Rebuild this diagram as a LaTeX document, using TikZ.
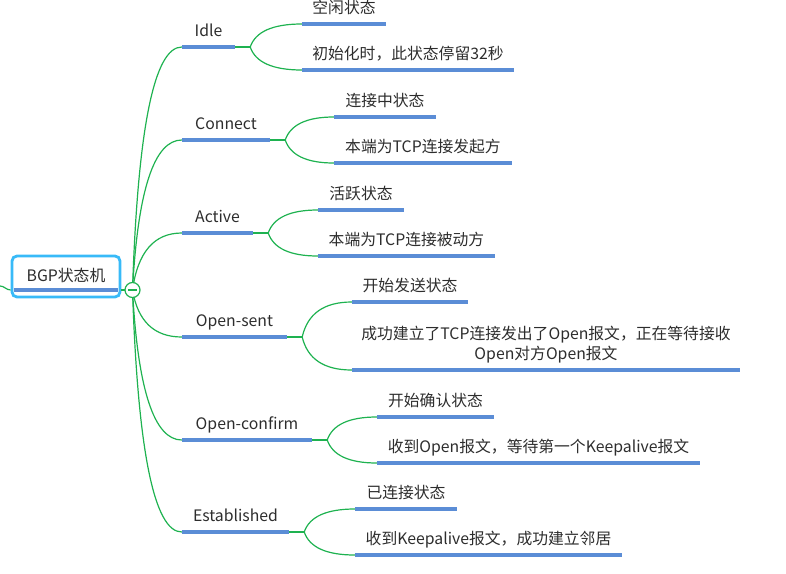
\documentclass[tikz,border=0pt]{standalone}
\usepackage{fontspec}
\setmainfont{Noto Sans CJK SC}
\usetikzlibrary{calc}
\definecolor{mmgreen}{RGB}{30,178,80}
\definecolor{mmblue}{RGB}{91,141,214}
\definecolor{mmcyan}{RGB}{56,186,248}
\definecolor{mmtext}{RGB}{45,45,45}
\tikzset
{
    rootnode/.style = {draw=mmcyan, line width=2.8pt, rounded corners=5pt, fill=white, minimum width=108pt, minimum height=41pt, inner sep=0pt},
    topicnode/.style = {anchor=base, inner xsep=0pt, minimum width=#1},
    leafnode/.style = {anchor=base, inner xsep=0pt, minimum width=#1},
    hubnode/.style = {circle, draw=mmgreen, fill=white, line width=1.2pt, minimum size=15pt, inner sep=0pt},
    uline/.style = {draw=mmblue, line width=3.5pt},
    branch/.style = {draw=mmgreen, line width=1.2pt}
}
% quadratic-looking branch: leaves steeply, arrives flat
\newcommand\mmlink[2]{\draw[branch] (#1) .. controls ($(#1)!0.667!(#1 |- #2)+(5.3,0)$) and ($(#2)!0.667!(#1 |- #2)+(5.3,0)$) .. (#2);}

\begin{document}
\begin{tikzpicture}[x=1pt, y=-1pt, text=mmtext, font=\fontsize{15.8}{20}\selectfont]
    \useasboundingbox (0,0) rectangle (786,573);
    % ------------------------------------------------ root
    \node [rootnode] (root) at (66,276.5) {\raisebox{3pt}{BGP状态机}};
    \coordinate (inlet) at (0,286);
    \coordinate (rootL) at ([yshift=-13.5pt]root.west);
    \coordinate (rootR) at ([yshift=-13.5pt]root.east);
    \coordinate (hubc) at (132.5,290);
    \draw [uline] ([xshift=3pt]rootL) -- ([xshift=-3pt]rootR);
    \draw [branch] (inlet) to[out=0, in=180] (rootL);
    \draw [branch] (rootR) -- (hubc);
    % ------------------------------------------------ topics
    \node [topicnode=53pt]  (idle)    at (208.5,36)  {Idle};
    \node [topicnode=88pt]  (connect) at (226,129)   {Connect};
    \node [topicnode=71pt]  (active)  at (217.5,222) {Active};
    \node [topicnode=105pt] (sent)    at (234.5,326) {Open-sent};
    \node [topicnode=130pt] (confirm) at (247,429)   {Open-confirm};
    \node [topicnode=107pt] (estab)   at (235.5,521) {Established};
    % ------------------------------------------------ leaves
    \node [leafnode=84pt]  (idleA)    at (344,13)    {空闲状态};
    \node [leafnode=212pt] (idleB)    at (408,59)    {初始化时，此状态停留32秒};
    \node [leafnode=102pt] (connectA) at (385,106)   {连接中状态};
    \node [leafnode=178pt] (connectB) at (423,152)   {本端为TCP连接发起方};
    \node [leafnode=86pt]  (activeA)  at (361,199)   {活跃状态};
    \node [leafnode=177pt] (activeB)  at (406.5,245) {本端为TCP连接被动方};
    \node [leafnode=116pt] (sentA)    at (410,291)   {开始发送状态};
    \node [leafnode=388pt, align=center] (sentB) at (546,359)
        {成功建立了TCP连接发出了Open报文，正在等待接收\\Open对方Open报文};
    \node [leafnode=117pt] (confirmA) at (435.5,406) {开始确认状态};
    \node [leafnode=323pt] (confirmB) at (538.5,452) {收到Open报文，等待第一个Keepalive报文};
    \node [leafnode=102pt] (estabA)   at (406,498)   {已连接状态};
    \node [leafnode=267pt] (estabB)   at (488.5,544) {收到Keepalive报文，成功建立邻居};
    % ------------------------------------------------ underlines
    \foreach \n in {idle,connect,active,sent,confirm,estab,idleA,idleB,connectA,connectB,activeA,activeB,sentA,sentB,confirmA,confirmB,estabA,estabB}
    {
        \coordinate (\n L) at ([yshift=-11pt]\n.base west);
        \coordinate (\n R) at ([yshift=-11pt]\n.base east);
        \draw [uline] (\n L) -- (\n R);
    }
    % ------------------------------------------------ branches
    \foreach \n in {idle,connect,active,sent,confirm,estab}
    {
        \mmlink{hubc}{\n L}
        \coordinate (\n J) at ([xshift=15pt]\n R);
        \draw [branch] (\n R) -- (\n J);
        \mmlink{\n J}{\n AL}
        \mmlink{\n J}{\n BL}
    }
    % ------------------------------------------------ collapse marker
    \node [hubnode] (hub) at (hubc) {};
    \draw [branch] ([xshift=-4.5pt]hub.center) -- ([xshift=4.5pt]hub.center);
\end{tikzpicture}
\end{document}
